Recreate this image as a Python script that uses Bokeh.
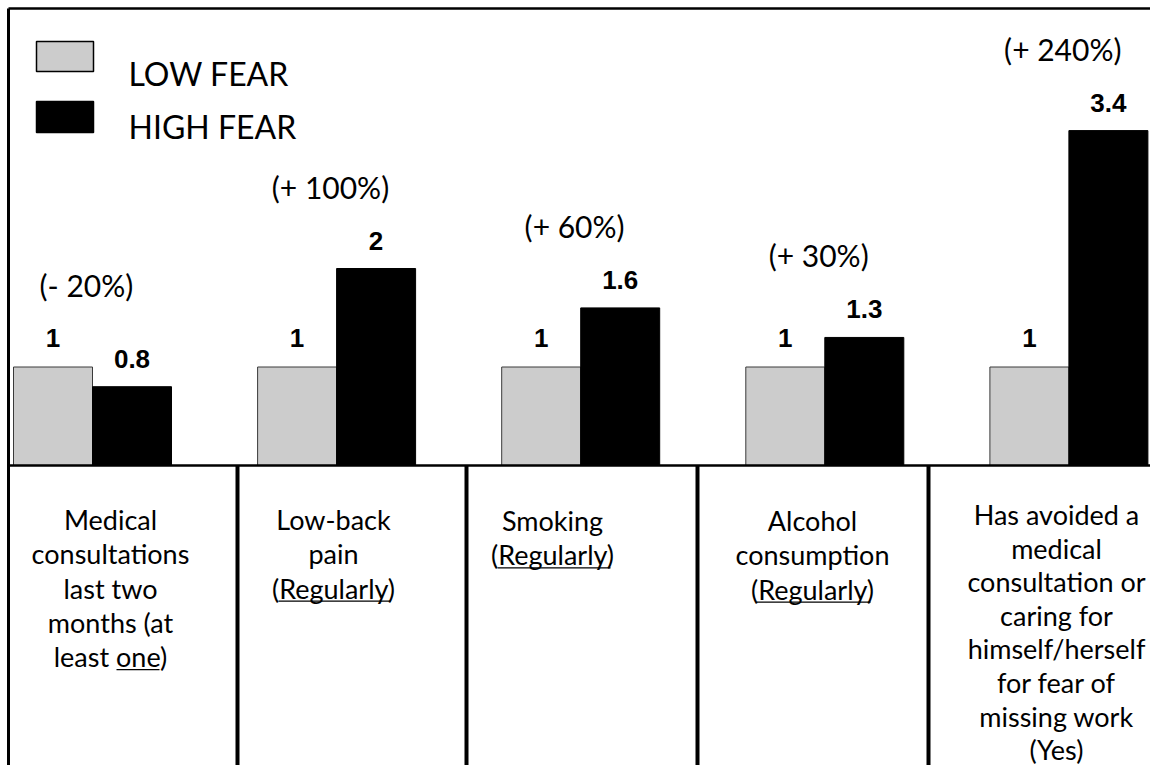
from bokeh.plotting import figure
from bokeh.models import Range1d
from bokeh.core.properties import value
from bokeh.embed import file_html
from bokeh.resources import INLINE

# ---------------- data ----------------
low_fear = [1, 1, 1, 1, 1]
high_fear = [0.8, 2, 1.6, 1.3, 3.4]
low_labels = ["1", "1", "1", "1", "1"]
high_labels = ["0.8", "2", "1.6", "1.3", "3.4"]
pct_labels = ["(- 20%)", "(+ 100%)", "(+ 60%)", "(+ 30%)", "(+ 240%)"]
categories = [
    "Medical\nconsultations\nlast two\nmonths (at\nleast one)",
    "Low-back\npain\n(Regularly)",
    "Smoking\n(Regularly)",
    "Alcohol\nconsumption\n(Regularly)",
    "Has avoided a\nmedical\nconsultation or\ncaring for\nhimself/herself\nfor fear of\nmissing work\n(Yes)",
]
legend_names = ["LOW FEAR", "HIGH FEAR"]

# ---------------- layout (pixels) ----------------
W, H = 1150, 765
X0_PX, GROUP_PX = 92.0, 244.1      # pixel of group 0 centre, spacing
Y0_PX, UNIT_PX = 465.0, 98.5       # baseline pixel, pixels per unit
BAR_W = 79.0 / GROUP_PX

def px_x(px):
    return (px - X0_PX) / GROUP_PX

def px_y(py):
    return (Y0_PX - py) / UNIT_PX

p = figure(width=W, height=H, output_backend="svg", toolbar_location=None,
           x_range=Range1d(px_x(0), px_x(W)), y_range=Range1d(px_y(H), px_y(0)),
           min_border=0, min_border_left=0, min_border_right=0,
           min_border_top=0, min_border_bottom=0)
p.xaxis.visible = False
p.yaxis.visible = False
p.grid.visible = False
p.outline_line_color = None
p.background_fill_color = "white"
p.border_fill_color = "white"

idx = list(range(len(high_fear)))
x_low = [i - BAR_W / 2 for i in idx]
x_high = [i + BAR_W / 2 for i in idx]

p.vbar(x=x_low, top=low_fear, bottom=0, width=BAR_W, fill_color="#cccccc",
       line_color="#3a3a3a", line_width=1)
p.vbar(x=x_high, top=high_fear, bottom=0, width=BAR_W, fill_color="black",
       line_color="black", line_width=1)

num_font = value("Liberation Sans")
txt_font = value("Lato")

p.text(x=x_low, y=low_fear, text=low_labels, text_font=num_font,
       text_font_style="bold", text_font_size="26px", text_align="center",
       text_baseline="middle", y_offset=-29, text_color="black")
p.text(x=x_high, y=high_fear, text=high_labels, text_font=num_font,
       text_font_style="bold", text_font_size="26px", text_align="center",
       text_baseline="middle", y_offset=-28, text_color="black")

top_vals = [max(a, b) for a, b in zip(low_fear, high_fear)]
p.text(x=[i - 0.025 for i in idx], y=top_vals, text=pct_labels, text_font=txt_font,
       text_font_size="30px", text_align="center", text_baseline="middle",
       y_offset=-82, text_color="black")

# ---------------- frame / table lines ----------------
p.segment(x0=[px_x(8)], y0=[px_y(8)], x1=[px_x(W)], y1=[px_y(8)],
          line_color="black", line_width=2.5)
p.segment(x0=[px_x(8)], y0=[px_y(8)], x1=[px_x(8)], y1=[px_y(H)],
          line_color="black", line_width=3)
p.segment(x0=[px_x(8)], y0=[0], x1=[px_x(W)], y1=[0],
          line_color="black", line_width=2.5)
div_px = [237, 466, 697, 928]
p.segment(x0=[px_x(d) for d in div_px], y0=[0] * 4,
          x1=[px_x(d) for d in div_px], y1=[px_y(H)] * 4,
          line_color="black", line_width=4)

# ---------------- category text ----------------
col_center_px = [110, 333, 552, 812, 1056]
first_line_px = [519, 519, 520, 520, 514]
line_px = [34.3, 34.3, 34.3, 34.3, 33.6]
xs, ys, ts = [], [], []
for c, label in enumerate(categories):
    for k, line in enumerate(label.split("\n")):
        xs.append(px_x(col_center_px[c]))
        ys.append(px_y(first_line_px[c] + k * line_px[c]))
        ts.append(line)
p.text(x=xs, y=ys, text=ts, text_font=txt_font, text_font_size="27px",
       text_align="center", text_baseline="middle", text_color="black")

# underlines ("one", "Regularly")
ul = [(0, 4, 116, 159), (1, 2, 278, 390), (2, 1, 497, 610), (3, 2, 756, 870)]
uy = [px_y(first_line_px[c] + k * line_px[c] + 13) for c, k, _, _ in ul]
p.segment(x0=[px_x(a) for _, _, a, _ in ul],
          x1=[px_x(b) for _, _, _, b in ul],
          y0=uy, y1=uy, line_color="black", line_width=1.3)

# ---------------- legend ----------------
p.quad(left=[px_x(36)], right=[px_x(93)], top=[px_y(41)], bottom=[px_y(71)],
       fill_color="#cccccc", line_color="black", line_width=1.5)
p.quad(left=[px_x(36)], right=[px_x(93)], top=[px_y(101)], bottom=[px_y(132)],
       fill_color="black", line_color="black", line_width=1.5)
p.text(x=[px_x(128), px_x(128)], y=[px_y(73), px_y(126)], text=legend_names,
       text_font=txt_font, text_font_size="32px", text_align="left",
       text_baseline="middle", text_color="black")

open("out.html", "w").write(file_html(p, INLINE))
